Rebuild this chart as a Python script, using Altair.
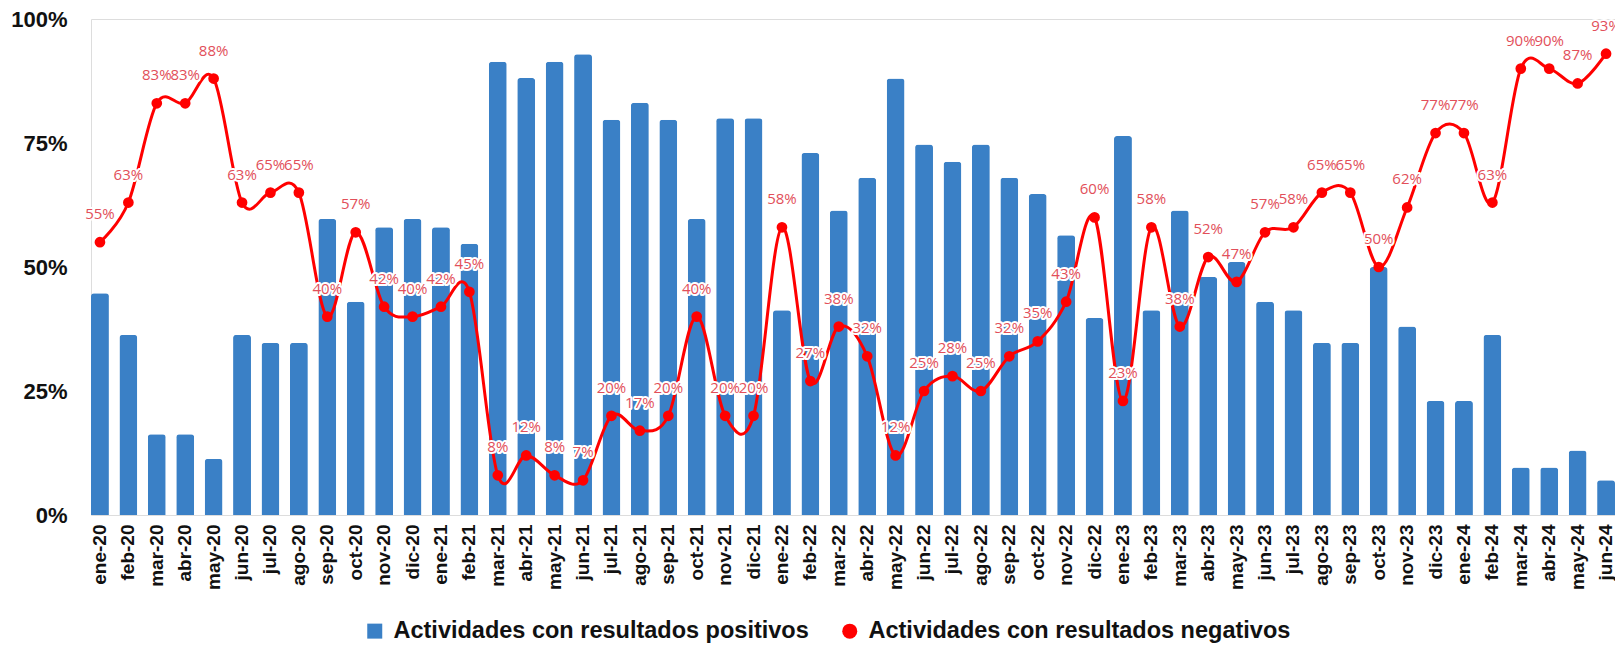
import altair as alt
import pandas as pd

meses = ["ene-20", "feb-20", "mar-20", "abr-20", "may-20", "jun-20", "jul-20", "ago-20", "sep-20", "oct-20",
         "nov-20", "dic-20", "ene-21", "feb-21", "mar-21", "abr-21", "may-21", "jun-21", "jul-21", "ago-21",
         "sep-21", "oct-21", "nov-21", "dic-21", "ene-22", "feb-22", "mar-22", "abr-22", "may-22", "jun-22",
         "jul-22", "ago-22", "sep-22", "oct-22", "nov-22", "dic-22", "ene-23", "feb-23", "mar-23", "abr-23",
         "may-23", "jun-23", "jul-23", "ago-23", "sep-23", "oct-23", "nov-23", "dic-23", "ene-24", "feb-24",
         "mar-24", "abr-24", "may-24", "jun-24"]

positivos = [44.7, 36.3, 16.3, 16.3, 11.3, 36.3, 34.7, 34.7, 59.7, 43.0,
             58.0, 59.7, 58.0, 54.7, 91.4, 88.1, 91.4, 92.9, 79.7, 83.1,
             79.7, 59.7, 80.0, 80.0, 41.3, 73.0, 61.4, 68.0, 88.0, 74.7,
             71.2, 74.7, 68.0, 64.7, 56.4, 39.7, 76.4, 41.3, 61.4, 48.0,
             51.0, 43.0, 41.3, 34.7, 34.7, 50.0, 38.0, 23.0, 23.0, 36.3,
             9.6, 9.6, 13.0, 7.0]

negativos = [55, 63, 83, 83, 88, 63, 65, 65, 40, 57,
             42, 40, 42, 45, 8, 12, 8, 7, 20, 17,
             20, 40, 20, 20, 58, 27, 38, 32, 12, 25,
             28, 25, 32, 35, 43, 60, 23, 58, 38, 52,
             47, 57, 58, 65, 65, 50, 62, 77, 77, 63,
             90, 90, 87, 93]

serie_pos = "Actividades con resultados positivos"
serie_neg = "Actividades con resultados negativos"

df_pos = pd.DataFrame({"mes": meses, "valor": positivos, "serie": serie_pos})
df_neg = pd.DataFrame({"mes": meses, "valor": negativos, "serie": serie_neg})
df_neg["etiqueta"] = [f"{v:.0f}%" for v in negativos]

FONT = "Liberation Sans"
BLUE = "#3a80c6"
RED = "#ff0000"

x = alt.X("mes:N", sort=meses, title=None,
          scale=alt.Scale(paddingInner=0.37, paddingOuter=0),
          axis=alt.Axis(labelAngle=-90, labelAlign="right", labelBaseline="middle",
                        labelFont=FONT, labelFontWeight="bold", labelFontSize=19,
                        labelColor="#111111", labelPadding=9, ticks=False, domain=False))
y = alt.Y("valor:Q", title=None,
          scale=alt.Scale(domain=[0, 100], nice=False),
          axis=alt.Axis(values=[0, 25, 50, 75, 100], labelExpr="datum.value + '%'",
                        labelFont=FONT, labelFontWeight="bold", labelFontSize=22,
                        labelColor="#111111", labelPadding=24, ticks=False, domain=False,
                        grid=False))

legend_kw = dict(title=None, orient="none", direction="horizontal",
                 legendX=272, legendY=600,
                 labelFont=FONT, labelFontWeight="bold", labelFontSize=23.5,
                 labelColor="#111111", symbolSize=225, labelOffset=7,
                 columnPadding=29, symbolStrokeWidth=0, labelLimit=700)

dom = [serie_pos, serie_neg]
color = alt.Color("serie:N", scale=alt.Scale(domain=dom, range=[BLUE, RED]),
                  legend=alt.Legend(**legend_kw))
shape = alt.Shape("serie:N", scale=alt.Scale(domain=dom, range=["square", "circle"]),
                  legend=alt.Legend(**legend_kw))

bars = alt.Chart(df_pos).mark_bar(cornerRadiusTopLeft=3, cornerRadiusTopRight=3).encode(
    x=x, y=y, color=color)

line = alt.Chart(df_neg).mark_line(interpolate="cardinal", strokeWidth=3).encode(
    x=x, y=y, color=alt.Color("serie:N", scale=alt.Scale(domain=dom, range=[BLUE, RED]), legend=None))

points = alt.Chart(df_neg).mark_point(filled=True, size=115, opacity=1).encode(
    x=x, y=y, color=color, shape=shape)

halo = alt.Chart(df_neg).mark_text(dy=-28, font="Open Sans", fontSize=15, stroke="white",
                                   strokeWidth=4, strokeJoin="round", color="white").encode(
    x=x, y=y, text="etiqueta:N")
labels = alt.Chart(df_neg).mark_text(dy=-28, font="Open Sans", fontSize=15, color="#e24f5a").encode(
    x=x, y=y, text="etiqueta:N")

chart = alt.layer(bars, line, points, halo, labels).properties(
    width=1524, height=496,
    autosize=alt.AutoSizeParams(type="none"),
    padding={"left": 83, "top": 11, "right": 0, "bottom": 129}
).configure_view(strokeWidth=0).configure(background="white")

chart.save("out.html", embed_options={"renderer": "svg", "actions": False})
